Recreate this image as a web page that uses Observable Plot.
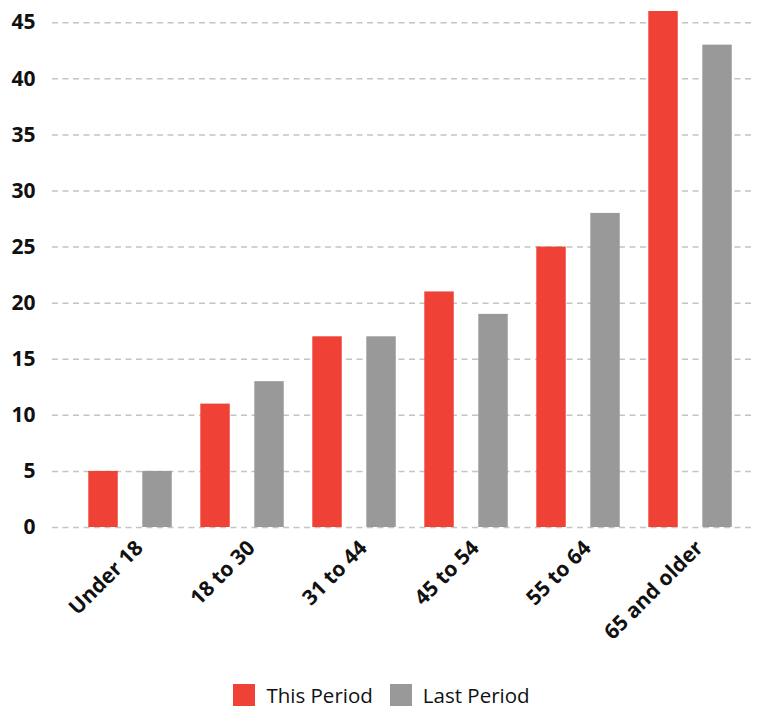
<!DOCTYPE html>
<html>
<head>
<meta charset="utf-8">
<script src="https://cdn.jsdelivr.net/npm/d3@7"></script>
<script src="https://cdn.jsdelivr.net/npm/@observablehq/plot@0.6"></script>
<style>
  html, body { margin: 0; padding: 0; background: #fff; overflow: hidden; }
  body { width: 763px; font-family: "Open Sans", sans-serif; }
  #chart svg { display: block; }
  #legend { display: flex; justify-content: center; align-items: center; font-size: 20.5px; line-height: 24px; height: 24px; color: #111; margin-top: 13px; }
  .item { display: flex; align-items: center; margin: 0 8.5px; }
  .sw { width: 22px; height: 22px; margin-right: 11px; }
</style>
</head>
<body>
<div id="chart"></div>
<div id="legend"></div>
<script>
const categories = ["Under 18", "18 to 30", "31 to 44", "45 to 54", "55 to 64", "65 and older"];
const seriesNames = ["This Period", "Last Period"];
const thisPeriod = [5, 11, 17, 21, 25, 46];
const lastPeriod = [5, 13, 17, 19, 28, 43];
const yTicks = [0, 5, 10, 15, 20, 25, 30, 35, 40, 45];
const colors = ["#ef4136", "#999999"];

const data = categories.flatMap((c, i) => [
  {category: c, series: seriesNames[0], value: thisPeriod[i]},
  {category: c, series: seriesNames[1], value: lastPeriod[i]}
]);

const chart = Plot.plot({
  width: 763,
  height: 670,
  marginTop: 11,
  marginBottom: 143,
  marginLeft: 52,
  marginRight: 8,
  style: {fontFamily: "Open Sans, sans-serif", fontWeight: "bold", fontSize: "21px", color: "#111", background: "#fff"},
  x: {domain: categories, range: [72.7, 748], padding: 0},
  y: {domain: [0, 46]},
  marks: [
    Plot.ruleY(yTicks, {stroke: "#c4c4c4", strokeWidth: 1.5, strokeDasharray: "6,4.5"}),
    Plot.barY(data.filter(d => d.series === seriesNames[0]), {x: "category", y: "value", fill: colors[0], insetLeft: 14.3, insetRight: 68.25}),
    Plot.barY(data.filter(d => d.series === seriesNames[1]), {x: "category", y: "value", fill: colors[1], insetLeft: 68.3, insetRight: 14.25}),
    Plot.axisY({ticks: yTicks, tickSize: 0, tickPadding: 17, label: null, fontSize: "21px"}),
    Plot.axisX({tickSize: 0, tickRotate: -45, tickPadding: 8, label: null, fontSize: "21px", dx: 9, dy: 9})
  ]
});
document.getElementById("chart").appendChild(chart);

const legend = document.getElementById("legend");
seriesNames.forEach((s, i) => {
  const item = document.createElement("div");
  item.className = "item";
  item.innerHTML = `<span class="sw" style="background:${colors[i]}"></span><span>${s}</span>`;
  legend.appendChild(item);
});
</script>
</body>
</html>
